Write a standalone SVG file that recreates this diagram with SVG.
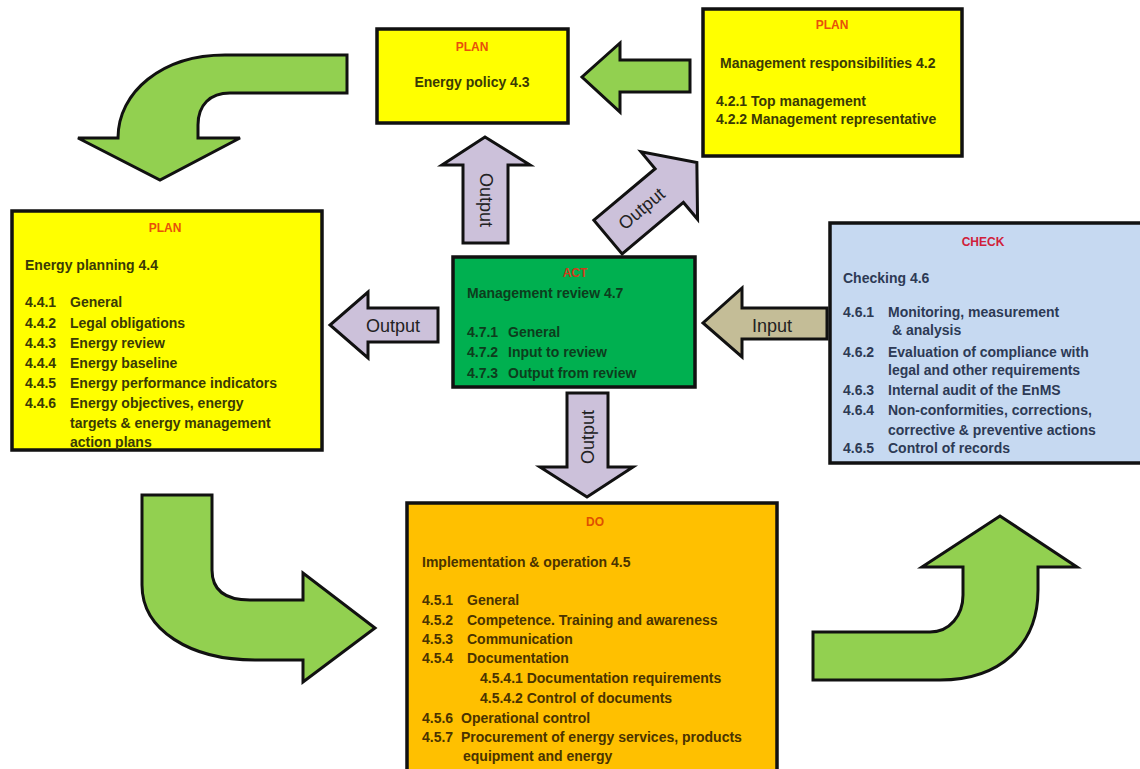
<svg xmlns="http://www.w3.org/2000/svg" width="1140" height="769" viewBox="0 0 1140 769">
<style>
.box{stroke:#111;stroke-width:3.5}
.arr{stroke:#111;stroke-width:3;stroke-linejoin:miter}
.g{fill:#92d050}
.lav{fill:#ccc1da}
.kh{fill:#c4bd97}
text{font-family:"Liberation Sans",Arial,sans-serif;font-size:14px;font-weight:bold}
.ttl{font-size:12px;text-anchor:middle}
.lbl{font-family:"Liberation Sans",Arial,sans-serif;font-size:18px;font-weight:normal;fill:#222;text-anchor:middle;dominant-baseline:central}
.ty{fill:#3a3a05}
.tg{fill:#0d3d1d}
.tb{fill:#2d3a55}
.to{fill:#4a3300}
</style>
<rect width="1140" height="769" fill="#fff"/>

<g id="connectors">
  <!-- top-left curved arrow -->
  <path class="arr g" d="M347,55 L225,55 C162,55 118,92 118,138 L78,138 L160,180 L240,138 L198,138 L198,125 C198,105 210,93 230,93 L347,93 Z"/>
  <!-- green left arrow from management responsibilities to energy policy -->
  <path class="arr g" d="M690,60 L620,60 L620,43 L582,77 L620,112 L620,92 L690,92 Z"/>
  <!-- up output arrow -->
  <path class="arr lav" d="M463,243 L463,165 L442,165 L485,137 L530,165 L508,165 L508,243 Z"/>
  <text class="lbl" transform="translate(486,200) rotate(90)">Output</text>
  <!-- diagonal output arrow -->
  <g transform="translate(608,237) rotate(-40)">
    <path class="arr lav" d="M0,-22 L80,-22 L80,-44 L116,0 L80,44 L80,22 L0,22 Z"/>
    <text class="lbl" x="44" y="0">Output</text>
  </g>
  <!-- left output arrow -->
  <path class="arr lav" d="M438,308 L368,308 L368,292 L330,325 L368,358 L368,342 L438,342 Z"/>
  <text class="lbl" x="393" y="326">Output</text>
  <!-- input arrow -->
  <path class="arr kh" d="M827,308 L742,308 L742,288 L703,323 L742,357 L742,339 L827,339 Z"/>
  <text class="lbl" x="772" y="326">Input</text>
  <!-- down output arrow -->
  <path class="arr lav" d="M567,393 L608,393 L608,467 L633,467 L587,497 L540,467 L567,467 Z"/>
  <text class="lbl" transform="translate(588,437) rotate(-90)">Output</text>
  <!-- bottom-left curved arrow -->
  <path class="arr g" d="M142,495 L212,495 L212,570 C212,590 225,600 250,600 L303,600 L303,573 L375,628 L303,682 L303,660 L255,660 C190,660 142,630 142,585 Z"/>
  <!-- bottom-right curved arrow -->
  <path class="arr g" d="M813,632 L930,632 C950,632 963,615 963,595 L963,567 L922,567 L1000,516 L1077,567 L1038,567 L1038,590 C1038,645 1000,680 940,680 L813,680 Z"/>
</g>

<g id="energy-policy">
  <rect class="box" x="377" y="29" width="191" height="94" fill="#ffff00"/>
  <text class="ttl" x="472" y="51" fill="#e8500a">PLAN</text>
  <text class="ty" x="472" y="87" text-anchor="middle">Energy policy 4.3</text>
</g>

<g id="management-responsibilities">
  <rect class="box" x="703" y="9" width="259" height="147" fill="#ffff00"/>
  <text class="ttl" x="832" y="29" fill="#e8500a">PLAN</text>
  <text class="ty" x="720" y="68">Management  responsibilities 4.2</text>
  <text class="ty" x="716" y="106">4.2.1 Top management</text>
  <text class="ty" x="716" y="124">4.2.2 Management representative</text>
</g>

<g id="energy-planning">
  <rect class="box" x="12" y="211" width="310" height="239" fill="#ffff00"/>
  <text class="ttl" x="165" y="232" fill="#e8500a">PLAN</text>
  <text class="ty" x="25" y="270">Energy planning 4.4</text>
  <g class="ty">
    <text x="25" y="307">4.4.1</text><text x="70" y="307">General</text>
    <text x="25" y="328">4.4.2</text><text x="70" y="328">Legal obligations</text>
    <text x="25" y="348">4.4.3</text><text x="70" y="348">Energy review</text>
    <text x="25" y="368">4.4.4</text><text x="70" y="368">Energy  baseline</text>
    <text x="25" y="388">4.4.5</text><text x="70" y="388">Energy performance indicators</text>
    <text x="25" y="408">4.4.6</text><text x="70" y="408">Energy objectives, energy</text>
    <text x="70" y="428">targets &amp; energy management</text>
    <text x="70" y="447">action plans</text>
  </g>
</g>

<g id="act">
  <rect class="box" x="453" y="257" width="242" height="130" fill="#00b050"/>
  <text class="ttl" x="575" y="277" fill="#d03a1a">ACT</text>
  <text class="tg" x="467" y="298">Management review 4.7</text>
  <g class="tg">
    <text x="467" y="337">4.7.1</text><text x="508" y="337">General</text>
    <text x="467" y="357">4.7.2</text><text x="508" y="357">Input to review</text>
    <text x="467" y="378">4.7.3</text><text x="508" y="378">Output from review</text>
  </g>
</g>

<g id="check">
  <rect class="box" x="830" y="223" width="320" height="240" fill="#c6d9f1"/>
  <text class="ttl" x="983" y="246" fill="#d0203a">CHECK</text>
  <text class="tb" x="843" y="283">Checking 4.6</text>
  <g class="tb">
    <text x="843" y="317">4.6.1</text><text x="888" y="317">Monitoring, measurement</text>
    <text x="892" y="335">&amp; analysis</text>
    <text x="843" y="357">4.6.2</text><text x="888" y="357">Evaluation of compliance with</text>
    <text x="888" y="375">legal and other requirements</text>
    <text x="843" y="395">4.6.3</text><text x="888" y="395">Internal audit  of the EnMS</text>
    <text x="843" y="415">4.6.4</text><text x="888" y="415">Non-conformities, corrections,</text>
    <text x="888" y="435">corrective &amp; preventive actions</text>
    <text x="843" y="453">4.6.5</text><text x="888" y="453">Control of records</text>
  </g>
</g>

<g id="do">
  <rect class="box" x="407" y="503" width="370" height="280" fill="#ffc000"/>
  <text class="ttl" x="595" y="526" fill="#e05000">DO</text>
  <text class="to" x="422" y="567">Implementation &amp; operation 4.5</text>
  <g class="to">
    <text x="422" y="605">4.5.1</text><text x="467" y="605">General</text>
    <text x="422" y="625">4.5.2</text><text x="467" y="625">Competence. Training and awareness</text>
    <text x="422" y="644">4.5.3</text><text x="467" y="644">Communication</text>
    <text x="422" y="663">4.5.4</text><text x="467" y="663">Documentation</text>
    <text x="480" y="683">4.5.4.1 Documentation requirements</text>
    <text x="480" y="703">4.5.4.2 Control of documents</text>
    <text x="422" y="723">4.5.6</text><text x="461" y="723">Operational control</text>
    <text x="422" y="742">4.5.7</text><text x="461" y="742">Procurement of energy services, products</text>
    <text x="463" y="761">equipment and energy</text>
  </g>
</g>
</svg>
